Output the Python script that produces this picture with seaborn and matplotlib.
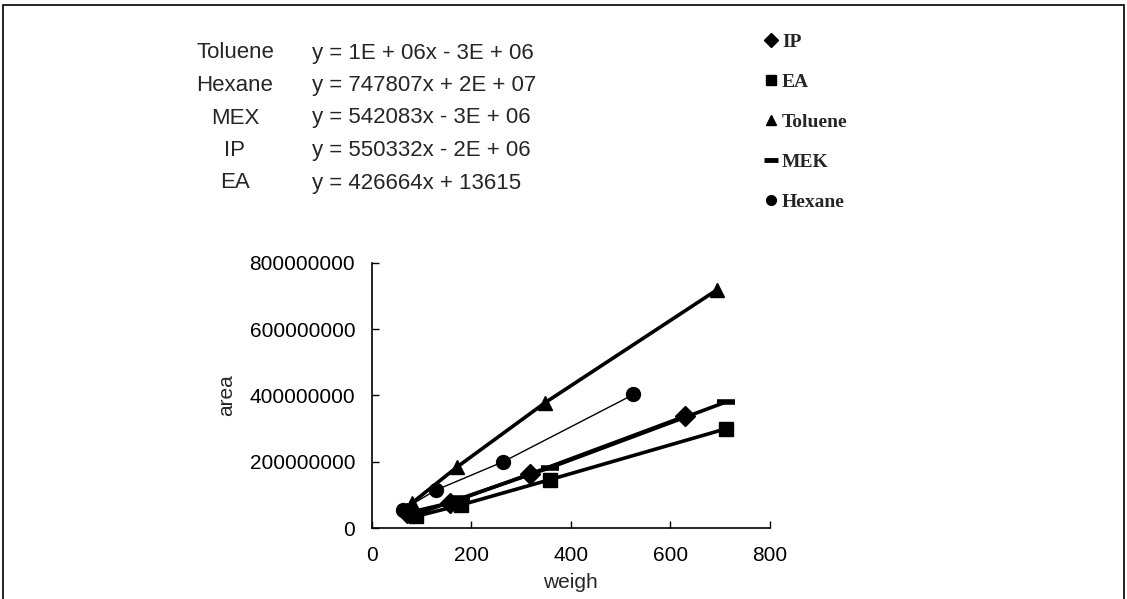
import matplotlib
matplotlib.use('Agg')
import matplotlib.pyplot as plt
from matplotlib.lines import Line2D
from matplotlib.patches import Rectangle
import pandas as pd
import seaborn as sns

# data
toluene_x = [80, 172, 348, 693]
toluene_y = [75e6, 185e6, 378e6, 718e6]
hexane_x = [62, 128, 264, 526]
hexane_y = [55e6, 114e6, 200e6, 403e6]
mek_x = [85, 180, 358, 713]
mek_y = [40e6, 90e6, 182e6, 381e6]
ip_x = [70, 157, 318, 629]
ip_y = [45e6, 76e6, 163e6, 337e6]
ea_x = [88, 180, 358, 713]
ea_y = [35e6, 70e6, 146e6, 300e6]

eq_names = ['Toluene', 'Hexane', 'MEX', 'IP', 'EA']
eq_texts = ['y = 1E + 06x - 3E + 06', 'y = 747807x + 2E + 07',
            'y = 542083x - 3E + 06', 'y = 550332x - 2E + 06',
            'y = 426664x + 13615']

legend_names = ['IP', 'EA', 'Toluene', 'MEK', 'Hexane']

sns.set_style('white')
plt.rcParams['font.family'] = ['Liberation Sans', 'DejaVu Sans']

fig = plt.figure(figsize=(11.27, 5.99), dpi=100)
ax = fig.add_axes([0.330, 0.1185, 0.353, 0.4425])

series = [
    ('Toluene', toluene_x, toluene_y, '^', 2.6),
    ('Hexane', hexane_x, hexane_y, 'o', 1.0),
    ('MEK', mek_x, mek_y, '_', 2.6),
    ('IP', ip_x, ip_y, 'D', 2.6),
    ('EA', ea_x, ea_y, 's', 2.6),
]
for name, xs, ys, mk, lw in series:
    df = pd.DataFrame({'weigh': xs, 'area': ys})
    sns.lineplot(data=df, x='weigh', y='area', ax=ax, color='black',
                 linewidth=lw, marker=mk, markersize=10 if mk != '_' else 13,
                 markeredgewidth=1 if mk != '_' else 4, markeredgecolor='black',
                 sort=False)

ax.set_xlim(0, 800)
ax.set_ylim(0, 800000000)
ax.set_xticks([0, 200, 400, 600, 800])
ax.set_yticks([0, 200000000, 400000000, 600000000, 800000000])
ax.set_yticklabels(['0', '200000000', '400000000', '600000000', '800000000'])
ax.tick_params(direction='in', length=5, width=1, labelsize=15, colors='black',
               left=True, bottom=True)
ax.tick_params(axis='y', pad=12)
ax.tick_params(axis='x', pad=13)
for s in ['top', 'right']:
    ax.spines[s].set_visible(False)
for s in ['left', 'bottom']:
    ax.spines[s].set_color('black')
    ax.spines[s].set_linewidth(1.2)
ax.set_xlabel('weigh', fontsize=15, labelpad=6)
ax.set_ylabel('area', fontsize=15, labelpad=10)

# equations of the fitted lines
for i, (nm, eq) in enumerate(zip(eq_names, eq_texts)):
    yy = 1 - (53 + 32.5 * i) / 599
    fig.text(235 / 1127, yy, nm, ha='center', va='center', fontsize=16)
    fig.text(312 / 1127, yy, eq, ha='left', va='center', fontsize=16)

# legend
markers = {'IP': 'D', 'EA': 's', 'Toluene': '^', 'MEK': '_', 'Hexane': 'o'}
handles = [Line2D([], [], color='black', linestyle='none', marker=markers[n],
                  markersize=7 if markers[n] != '_' else 10,
                  markeredgewidth=1 if markers[n] != '_' else 3.5)
           for n in legend_names]
leg = fig.legend(handles, legend_names, loc='upper left',
                 bbox_to_anchor=(748 / 1127, 1 - 16 / 599), frameon=False,
                 handlelength=0.6, handletextpad=0.25, labelspacing=1.15,
                 prop={'family': 'Liberation Serif', 'weight': 'bold', 'size': 14})

# outer frame (no bottom edge visible)
fig.patches.append(Rectangle((3 / 1127, -0.02), 1121 / 1127, 1.02 - 5 / 599,
                             transform=fig.transFigure, fill=False,
                             edgecolor='black', linewidth=1.2))

fig.savefig('out.png', dpi=100)
